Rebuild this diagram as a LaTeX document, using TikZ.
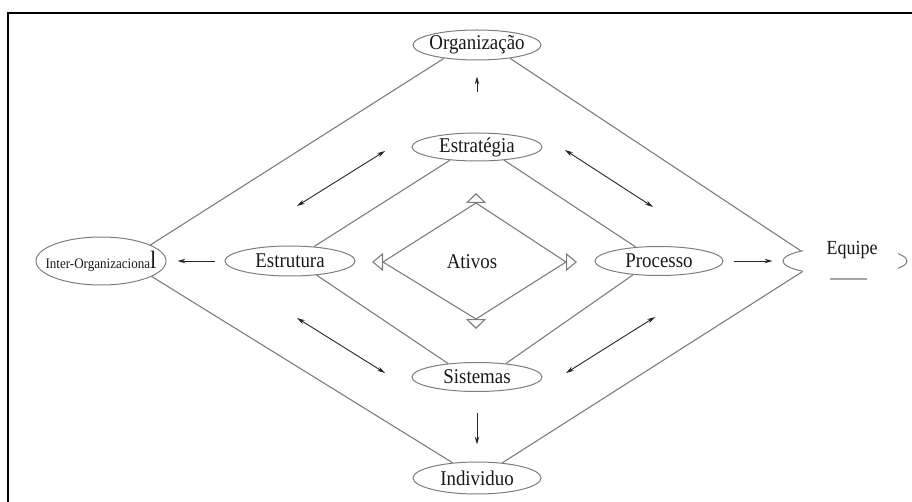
\documentclass[tikz,border=0pt]{standalone}
\usepackage{fontspec}
\setmainfont{Liberation Serif}[FakeStretch=0.9]
\usetikzlibrary{arrows.meta,shapes.geometric}
\definecolor{linegray}{RGB}{125,125,125}
\definecolor{txtcol}{RGB}{25,25,25}
\newcommand\mklbl[1]{\makebox[0pt]{#1}}
\begin{document}
\begin{tikzpicture}[x=1pt,y=-1pt,
  elli/.style={ellipse, draw=linegray, line width=1pt, inner sep=0pt,
    text=txtcol, font=\fontsize{21}{24}\selectfont},
  gline/.style={draw=linegray, line width=1.1pt},
  arr/.style={draw=black!85, line width=0.9pt, -{Stealth[length=8pt,width=4.5pt]}},
  darr/.style={draw=black!85, line width=0.9pt, {Stealth[length=8pt,width=4.5pt]}-{Stealth[length=8pt,width=4.5pt]}},
  tri/.style={gline},
  lbl/.style={text=txtcol, font=\fontsize{21}{24}\selectfont, inner sep=0pt}]
\useasboundingbox (0,0) rectangle (912,502);

% frame
\draw[line width=2.5pt, line join=miter] (8,502) -- (8,13) -- (912,13);

% nodes
\node[elli, minimum width=128pt, minimum height=30pt] (org)  at (477,45)  {\mklbl{Organização}};
\node[elli, minimum width=130pt, minimum height=28pt] (est)  at (477,147) {\mklbl{Estratégia}};
\node[elli, minimum width=130pt, minimum height=30pt] (estr) at (290,261) {\mklbl{Estrutura}};
\node[elli, minimum width=128pt, minimum height=29pt] (proc) at (659,261) {\mklbl{Processo}};
\node[elli, minimum width=130pt, minimum height=29pt] (sis)  at (477,377) {\mklbl{Sistemas}};
\node[elli, minimum width=128pt, minimum height=32pt] (ind)  at (477,478) {\mklbl{Individuo}};
\node[elli, minimum width=130pt, minimum height=48pt] (inter) at (101,261)
  {\mklbl{{\fontsize{14.5}{16}\selectfont Inter-Organizaciona}{\fontsize{25}{27}\selectfont l}}};
\node[elli, minimum width=124pt, minimum height=28pt] (equ)  at (845,261) {};

% outer diamond
\draw[gline] (org.202) -- (inter.18);
\draw[gline] (org.338) -- (equ.167);
\draw[gline] (inter.343) -- (ind.148);
\draw[gline] (ind.31) -- (equ.194);

% middle diamond
\draw[gline] (est.206) -- (estr.31);
\draw[gline] (est.334) -- (proc.149);
\draw[gline] (estr.332) -- (sis.155);
\draw[gline] (proc.208) -- (sis.25);

% inner diamond with open triangles at its corners
\coordinate (dt) at (476,203);
\coordinate (dr) at (566,262);
\coordinate (db) at (476,319);
\coordinate (dl) at (383,262);
\draw[gline] (dt) -- (dr) -- (db) -- (dl) -- cycle;
\draw[tri, -{Triangle[open,length=10pt,width=20pt]}] (dt) -- ++(0,-10);
\draw[tri, -{Triangle[open,length=11pt,width=18pt]}] (dr) -- ++(11,0);
\draw[tri, -{Triangle[open,length=10pt,width=20pt]}] (db) -- ++(0,10);
\draw[tri, -{Triangle[open,length=11pt,width=18pt]}] (dl) -- ++(-11,0);
\node[lbl] (ativos) at (472,262) {Ativos};

% single arrows
\draw[arr, shorten <=40pt, shorten >=16pt] (est) -- (org);
\draw[arr, shorten <=21pt, shorten >=17pt] (sis) -- (ind);
\draw[arr, shorten <=10pt, shorten >=11pt] (estr) -- (inter);
\draw[arr, shorten <=10pt, shorten >=10pt] (proc) -- (equ);

% double arrows
\coordinate (ula) at (385,151); \coordinate (ulb) at (297,206);
\coordinate (ura) at (565,150); \coordinate (urb) at (653,207);
\coordinate (lla) at (297,318); \coordinate (llb) at (385,373);
\coordinate (lra) at (655,317); \coordinate (lrb) at (566,373);
\draw[darr] (ula) -- (ulb);
\draw[darr] (ura) -- (urb);
\draw[darr] (lla) -- (llb);
\draw[darr] (lra) -- (lrb);

% label patch over the right ellipse
\node[fill=white, minimum width=95pt, minimum height=55pt, inner sep=0pt] (eqbox) at (850.5,259.5) {};
\node[lbl, font=\fontsize{20}{22}\selectfont] (eqtxt) at (852,250) {Equipe};
\draw[draw=linegray!70, line width=1.2pt] (830,279) -- (867,279);
\end{tikzpicture}
\end{document}
